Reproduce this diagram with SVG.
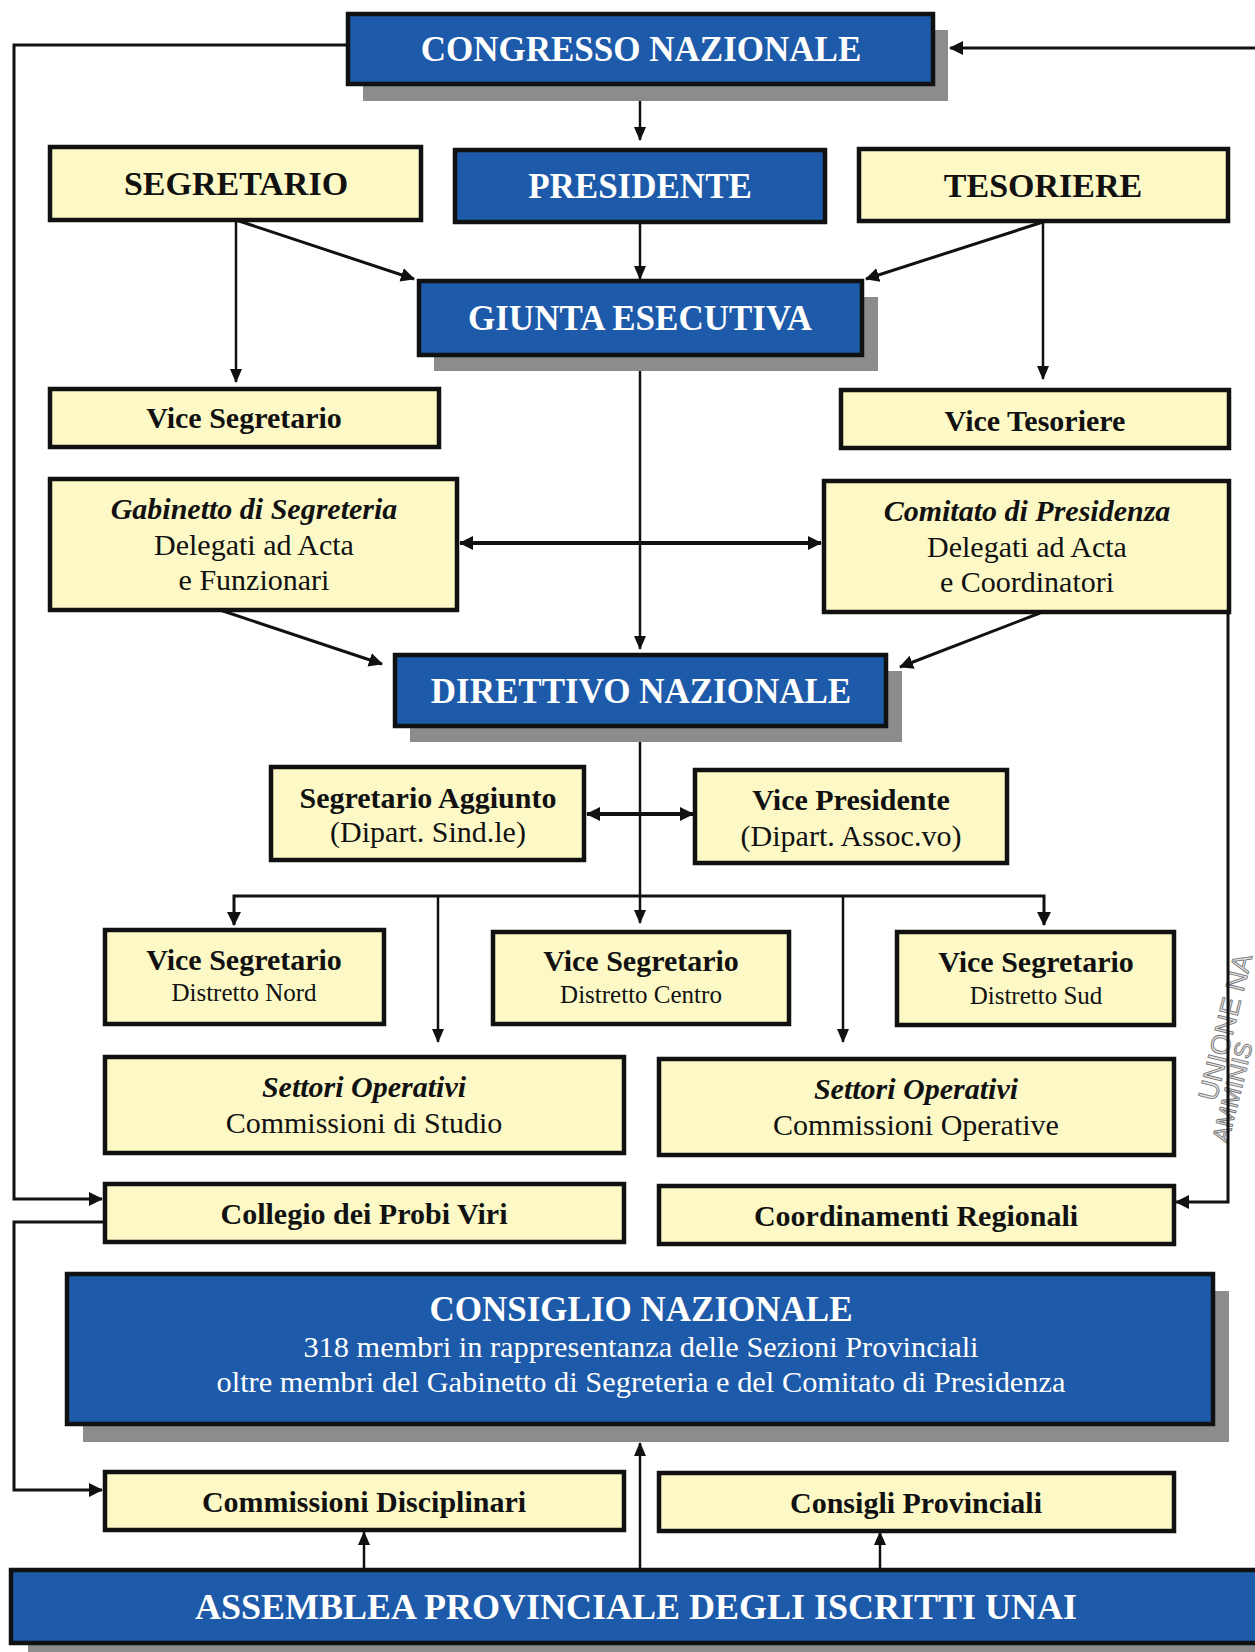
<svg xmlns="http://www.w3.org/2000/svg" width="1255" height="1652" viewBox="0 0 1255 1652">
<style>
.blue{fill:#1d5aa9;stroke:#111;stroke-width:4.5}
.yel{fill:#fcf9c6;stroke:#111;stroke-width:4.5}
.sh{fill:#8c8c8c}
.c{fill:none;stroke:#111;stroke-width:2.5}
.ct{fill:none;stroke:#111;stroke-width:4}
text{font-family:"Liberation Serif","Times New Roman",serif;text-anchor:middle}
.hw{fill:#fff;font-weight:bold;font-size:35px}
.hb{fill:#111;font-weight:bold;font-size:34px}
.b{fill:#111;font-weight:bold;font-size:30px}
.bi{fill:#111;font-weight:bold;font-style:italic;font-size:30px}
.r{fill:#111;font-size:30px}
.s{fill:#111;font-size:25px}
.rw{fill:#fff;font-size:30.4px}
.wm{font-family:"Liberation Sans",Arial,sans-serif;fill:#e6e6e6;stroke:#777;stroke-width:0.9;text-anchor:start}
</style>
<defs>
<marker id="ah" viewBox="0 0 14 12" refX="13" refY="6" markerWidth="14" markerHeight="12" markerUnits="userSpaceOnUse" orient="auto-start-reverse"><path d="M0,0 L14,6 L0,12 Z" fill="#111"/></marker>
<marker id="ahb" viewBox="0 0 14 14" refX="13" refY="7" markerWidth="14" markerHeight="16" markerUnits="userSpaceOnUse" orient="auto-start-reverse"><path d="M0,0 L14,7 L0,14 Z" fill="#111"/></marker>
</defs>
<rect width="1255" height="1652" fill="#fff"/>

<g id="watermark">
<text class="wm" font-size="27" transform="translate(1216,1102) rotate(-76)">UNIONE NA</text>
<text class="wm" font-size="24" transform="translate(1228,1144) rotate(-76)">AMMINIS</text>
</g>

<g id="connectors">
<path class="c" d="M348,45 H14 V1199 H102" marker-end="url(#ahb)" style="stroke-width:3"/>
<path class="c" d="M105,1222 H14 V1490 H102" marker-end="url(#ahb)" style="stroke-width:3"/>
<path class="c" d="M1255,48 H950" marker-end="url(#ahb)" style="stroke-width:3"/>
<path class="c" d="M1228,612 V1202 H1176" marker-end="url(#ahb)" style="stroke-width:3"/>
<path class="c" d="M640,86 V140" marker-end="url(#ah)"/>
<path class="c" d="M640,222 V279" marker-end="url(#ah)"/>
<path class="c" d="M236,220 V382" marker-end="url(#ah)"/>
<path class="ct" d="M236,220 L414,279" marker-end="url(#ahb)" style="stroke-width:3"/>
<path class="c" d="M1043,222 V379" marker-end="url(#ah)"/>
<path class="ct" d="M1043,222 L866,279" marker-end="url(#ahb)" style="stroke-width:3"/>
<path class="c" d="M640,356 V649" marker-end="url(#ah)"/>
<path class="ct" d="M460,543 H821" marker-start="url(#ahb)" marker-end="url(#ahb)"/>
<path class="ct" d="M220,610 L382,664" marker-end="url(#ahb)" style="stroke-width:3"/>
<path class="ct" d="M1040,613 L900,667" marker-end="url(#ahb)" style="stroke-width:3"/>
<path class="c" d="M640,726 V923" marker-end="url(#ah)"/>
<path class="ct" d="M587,814 H693" marker-start="url(#ahb)" marker-end="url(#ahb)"/>
<path class="ct" d="M234,925 V896 H1044 V925" marker-start="url(#ahb)" marker-end="url(#ahb)" style="stroke-width:3"/>
<path class="c" d="M438,896 V1042" marker-end="url(#ah)"/>
<path class="c" d="M843,896 V1042" marker-end="url(#ah)"/>
<path class="c" d="M364,1570 V1532" marker-end="url(#ah)"/>
<path class="c" d="M640,1570 V1443" marker-end="url(#ah)"/>
<path class="c" d="M880,1570 V1532" marker-end="url(#ah)"/>
</g>

<g id="congresso">
<rect class="sh" x="363" y="30" width="585" height="71"/>
<rect class="blue" x="348" y="14" width="585" height="70"/>
<text class="hw" x="641" y="61">CONGRESSO NAZIONALE</text>
</g>
<g id="segretario">
<rect class="yel" x="50" y="147" width="371" height="73"/>
<text class="hb" x="236" y="195">SEGRETARIO</text>
</g>
<g id="presidente">
<rect class="blue" x="455" y="150" width="370" height="72"/>
<text class="hw" x="640" y="198">PRESIDENTE</text>
</g>
<g id="tesoriere">
<rect class="yel" x="859" y="149" width="369" height="72"/>
<text class="hb" x="1043" y="197">TESORIERE</text>
</g>
<g id="giunta">
<rect class="sh" x="434" y="297" width="444" height="74"/>
<rect class="blue" x="419" y="281" width="443" height="74"/>
<text class="hw" x="640" y="330">GIUNTA ESECUTIVA</text>
</g>
<g id="vice-segretario">
<rect class="yel" x="50" y="389" width="389" height="58"/>
<text class="b" x="244" y="428">Vice Segretario</text>
</g>
<g id="vice-tesoriere">
<rect class="yel" x="841" y="390" width="388" height="58"/>
<text class="b" x="1035" y="431">Vice Tesoriere</text>
</g>
<g id="gabinetto">
<rect class="yel" x="50" y="479" width="407" height="131"/>
<text class="bi" x="254" y="519">Gabinetto di Segreteria</text>
<text class="r" x="254" y="555">Delegati ad Acta</text>
<text class="r" x="254" y="590">e Funzionari</text>
</g>
<g id="comitato">
<rect class="yel" x="824" y="481" width="405" height="131"/>
<text class="bi" x="1027" y="521">Comitato di Presidenza</text>
<text class="r" x="1027" y="557">Delegati ad Acta</text>
<text class="r" x="1027" y="592">e Coordinatori</text>
</g>
<g id="direttivo">
<rect class="sh" x="410" y="671" width="492" height="71"/>
<rect class="blue" x="395" y="655" width="491" height="71"/>
<text class="hw" x="641" y="703">DIRETTIVO NAZIONALE</text>
</g>
<g id="segretario-aggiunto">
<rect class="yel" x="271" y="767" width="313" height="93"/>
<text class="b" x="428" y="808">Segretario Aggiunto</text>
<text class="r" x="428" y="842">(Dipart. Sind.le)</text>
</g>
<g id="vice-presidente">
<rect class="yel" x="695" y="770" width="312" height="93"/>
<text class="b" x="851" y="810">Vice Presidente</text>
<text class="r" x="851" y="846">(Dipart. Assoc.vo)</text>
</g>
<g id="vs-nord">
<rect class="yel" x="105" y="930" width="279" height="94"/>
<text class="b" x="244" y="970">Vice Segretario</text>
<text class="s" x="244" y="1001">Distretto Nord</text>
</g>
<g id="vs-centro">
<rect class="yel" x="493" y="932" width="296" height="92"/>
<text class="b" x="641" y="971">Vice Segretario</text>
<text class="s" x="641" y="1003">Distretto Centro</text>
</g>
<g id="vs-sud">
<rect class="yel" x="897" y="932" width="277" height="93"/>
<text class="b" x="1036" y="972">Vice Segretario</text>
<text class="s" x="1036" y="1004">Distretto Sud</text>
</g>
<g id="settori-studio">
<rect class="yel" x="105" y="1057" width="519" height="96"/>
<text class="bi" x="364" y="1097">Settori Operativi</text>
<text class="r" x="364" y="1133">Commissioni di Studio</text>
</g>
<g id="settori-operative">
<rect class="yel" x="659" y="1059" width="515" height="96"/>
<text class="bi" x="916" y="1099">Settori Operativi</text>
<text class="r" x="916" y="1135">Commissioni Operative</text>
</g>
<g id="collegio">
<rect class="yel" x="105" y="1184" width="519" height="58"/>
<text class="b" x="364" y="1224">Collegio dei Probi Viri</text>
</g>
<g id="coordinamenti">
<rect class="yel" x="659" y="1186" width="515" height="58"/>
<text class="b" x="916" y="1226">Coordinamenti Regionali</text>
</g>
<g id="consiglio">
<rect class="sh" x="83" y="1291" width="1146" height="151"/>
<rect class="blue" x="67" y="1274" width="1146" height="150"/>
<text class="hw" x="641" y="1321">CONSIGLIO NAZIONALE</text>
<text class="rw" x="641" y="1357">318 membri in rappresentanza delle Sezioni Provinciali</text>
<text class="rw" x="641" y="1392">oltre membri del Gabinetto di Segreteria e del Comitato di Presidenza</text>
</g>
<g id="commissioni-disciplinari">
<rect class="yel" x="105" y="1472" width="519" height="58"/>
<text class="b" x="364" y="1512">Commissioni Disciplinari</text>
</g>
<g id="consigli-provinciali">
<rect class="yel" x="659" y="1473" width="515" height="58"/>
<text class="b" x="916" y="1513">Consigli Provinciali</text>
</g>
<g id="assemblea">
<rect class="sh" x="28" y="1590" width="1240" height="70"/>
<rect class="blue" x="11" y="1570" width="1252" height="73"/>
<text class="hw" x="636" y="1619" style="font-size:36px">ASSEMBLEA PROVINCIALE DEGLI ISCRITTI UNAI</text>
</g>
</svg>
